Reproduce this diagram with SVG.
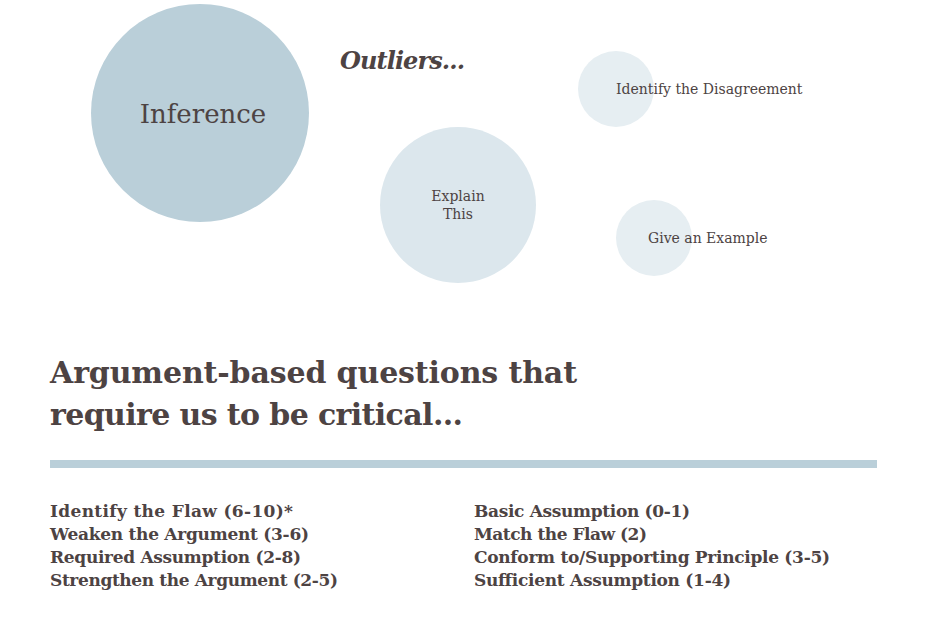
<svg xmlns="http://www.w3.org/2000/svg" width="930" height="620" viewBox="0 0 930 620">
<style>
text{font-family:"DejaVu Serif","Liberation Serif",serif;fill:#4d4343}
.l{font-size:14px}
.b{font-weight:bold;font-size:17px}
.h{font-weight:bold;font-size:30px}
</style>
<rect width="930" height="620" fill="#fff"/>
<g id="inference"><circle cx="200" cy="113" r="109" fill="#bacfd9"/><text x="203" y="123" font-size="26" text-anchor="middle">Inference</text></g>
<g id="outliers"><text x="340" y="69" font-size="24" font-weight="bold" font-style="italic" textLength="125">Outliers...</text></g>
<g id="explain"><circle cx="458" cy="205" r="78" fill="#dce7ed"/><text class="l" x="458" y="201" text-anchor="middle">Explain</text><text class="l" x="458" y="219" text-anchor="middle">This</text></g>
<g id="disagree"><circle cx="616" cy="89" r="38" fill="#e6eef2"/><text class="l" x="616" y="94">Identify the Disagreement</text></g>
<g id="example"><circle cx="654" cy="238" r="38" fill="#e6eef2"/><text class="l" x="648" y="243">Give an Example</text></g>
<g id="heading"><text class="h" x="50" y="383" textLength="527">Argument-based questions that</text><text class="h" x="50" y="425" textLength="413">require us to be critical...</text></g>
<rect x="50" y="460" width="827" height="8" fill="#bacfd9"/>
<g id="list">
<text class="b" x="50" y="517" textLength="243">Identify the Flaw (6-10)*</text>
<text class="b" x="50" y="540" textLength="259">Weaken the Argument (3-6)</text>
<text class="b" x="50" y="563" textLength="251">Required Assumption (2-8)</text>
<text class="b" x="50" y="586" textLength="288">Strengthen the Argument (2-5)</text>
<text class="b" x="474" y="517" textLength="216">Basic Assumption (0-1)</text>
<text class="b" x="474" y="540" textLength="173">Match the Flaw (2)</text>
<text class="b" x="474" y="563" textLength="356">Conform to/Supporting Principle (3-5)</text>
<text class="b" x="474" y="586" textLength="257">Sufficient Assumption (1-4)</text>
</g>
</svg>
